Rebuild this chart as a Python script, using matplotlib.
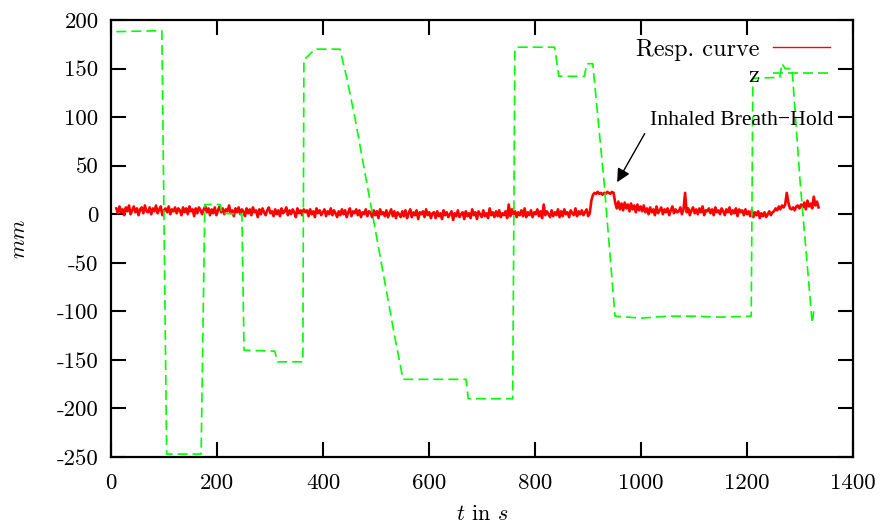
import numpy as np
import matplotlib
matplotlib.use("Agg")
import matplotlib.pyplot as plt

plt.rcParams['font.family'] = ['cmr10', 'DejaVu Serif']
plt.rcParams['mathtext.fontset'] = 'cm'
plt.rcParams['axes.unicode_minus'] = False

# z position of the couch (green dashed)
z_t = [10, 96, 105, 170, 177, 206, 209, 247, 251, 309, 314, 362, 364, 368, 385, 432,
       445, 460, 475, 490, 505, 520, 535, 551, 670, 674, 758, 762, 766, 837, 845, 893,
       898, 909, 930, 951, 1000, 1050, 1100, 1150, 1208, 1211, 1262, 1266, 1272, 1285,
       1300, 1323, 1326]
z_val = [188, 189, -247, -247, 10, 10, 1, 0, -140, -141, -152, -152, 160, 161, 170, 170,
         140, 100, 55, 10, -35, -80, -125, -170, -170, -190, -190, 170, 172, 172, 142, 142,
         155, 155, 35, -105, -107, -105, -105, -106, -105, 140, 141, 155, 150, 150,
         35, -112, -100]

# respiratory curve, hand-read samples roughly every 3 s
resp_val = [
    6, 1, 8, 2, 5, -1, 7, 3, 9, 0, 4, 8, 2, 6, -1, 5, 7, 1, 9, 3,
    2, 7, 0, 6, 3, 9, 1, 5, 8, -1, 4, 6, 2, 8, 0, 5, 3, 7, 1, 6,
    4, -1, 7, 2, 6, 0, 8, 3, 5, -2, 6, 1, 7, 4, 0, 5, 8, 2, 6, -1,
    5, 1, 7, -1, 4, 8, 2, 6, 0, 5, 3, 9, 1, 4, -2, 6, 2, 7, 0, 5,
    3, -2, 6, 1, 5, -1, 7, 2, 4, -3, 5, 0, 6, 2, -1, 4, 7, 1, 3, -2,
    5, 0, 4, -2, 6, 1, 3, 7, -1, 4, 0, 5, 2, -3, 6, 1, 4, -1, 5, 2,
    4, -2, 5, 0, 3, -3, 6, 1, 4, -1, 2, 5, -2, 3, 0, 6, -1, 4, 1, -3,
    3, -1, 5, 0, 4, -3, 2, 6, -2, 3, 1, 5, -1, 4, -3, 2, 0, 5, -2, 3,
    2, -3, 4, -1, 3, -4, 5, 0, 2, -2, 4, -3, 1, 5, -2, 3, -4, 2, 0, -3,
    3, -2, 4, -4, 1, 5, -3, 2, -1, 4, -5, 2, 0, 3, -3, 5, -1, 2, -4, 1,
    2, -4, 3, -2, 1, -5, 4, -1, 2, -3, 0, 3, -6, 1, -2, 4, -3, 0, 2, -5,
    3, -2, 1, -4, 5, -1, 2, -5, 3, 0, -3, 4, -2, 1, -4, 6, -1, 2, -3, 3,
    -2, 4, -3, 1, -1, 3, -4, 10, -2, 5, 0, 3, -3, 2, -1, 4, -2, 6, -3, 2,
    -1, 4, -3, 2, 0, 5, -2, 3, -4, 10, -1, 3, 0, -3, 4, -2, 2, -1, 5, -3,
    3, -2, 5, 0, 2, -3, 4, 1, -1, 6, -2, 3, 0, 4, -1, 2, 5, -2, 1, 14,
    20, 22, 21, 23, 21, 22, 20, 22, 21, 23, 22, 21, 23, 22,
    12, 6, 13, 5, 11, 4, 12, 6, 10, 3, 11, 5, 9, 2, 10, 4, 8, 3, 9, 2,
    6, 0, 7, 2, 5, -1, 8, 1, 4, 7, 0, 5, 2, 6, -1, 4, 8, 1, 5, 2,
    3, 7, 0, 5, 22, 2, 6, -1, 4, 7, 1, 5, 0, 6, 2, 8, -1, 4, 3, 6,
    1, 5, -1, 7, 2, 4, 0, 6, 3, -1, 5, 2, 7, 0, 4, 1, 6, -2, 5, 2,
    4, -1, 5, 0, 3, -2, 4, -3, 2, -1, 3, -4, 1, -2, 2, -3, 0, 3, -1, 2,
    3, 6, 4, 8, 5, 9, 7, 10, 22, 12, 6, 5, 7, 4, 8, 9, 6, 10, 7, 12,
    5, 14, 8, 11, 6, 18, 9, 13, 7,
]
resp_t = np.linspace(10, 1335, len(resp_val))

x_ticks = [0, 200, 400, 600, 800, 1000, 1200, 1400]
y_ticks = [-250, -200, -150, -100, -50, 0, 50, 100, 150, 200]

fig = plt.figure(figsize=(8.82, 5.28), dpi=100)
ax = fig.add_axes([111/882, 1-457/528, (853-111)/882, (457-20)/528])

ax.plot(resp_t, resp_val, color='#ff0000', lw=1.9, label='Resp. curve')
ax.plot(z_t, z_val, color='#00ff00', lw=1.2, dashes=(6, 3), label='z')

ax.set_xlim(0, 1400)
ax.set_ylim(-250, 200)
ax.set_xticks(x_ticks)
ax.set_xticklabels([str(v) for v in x_ticks], fontsize=16.5)
ax.set_yticks(y_ticks)
ax.set_yticklabels([str(v) for v in y_ticks], fontsize=16.5)
ax.tick_params(direction='in', length=11, width=1.5, top=True, right=True)
ax.tick_params(axis='x', pad=12)
ax.tick_params(axis='y', pad=9)
for s in ax.spines.values():
    s.set_linewidth(1.6)

ax.set_xlabel(r'$t$ in $s$', fontsize=16, labelpad=8)
ax.set_ylabel(r'$mm$', fontsize=16, labelpad=20)

ax.text(1017, 97, 'Inhaled Breath\u2212Hold', fontsize=15.6, ha='left', va='center',
        family=['Liberation Serif', 'DejaVu Serif'])
ax.annotate('', xy=(955, 33), xytext=(1007, 83),
            arrowprops=dict(arrowstyle='-|>', color='black', lw=1,
                            mutation_scale=20, shrinkA=0, shrinkB=0))

leg = ax.legend(loc='upper right', frameon=False, markerfirst=False, fontsize=17.5,
                handlelength=2.35, handletextpad=0.55, labelspacing=0.15,
                borderaxespad=0, borderpad=0, bbox_to_anchor=(0.969, 0.957))
leg.get_lines()[0].set_linewidth(1.0)

fig.savefig('out.png', dpi=100)
